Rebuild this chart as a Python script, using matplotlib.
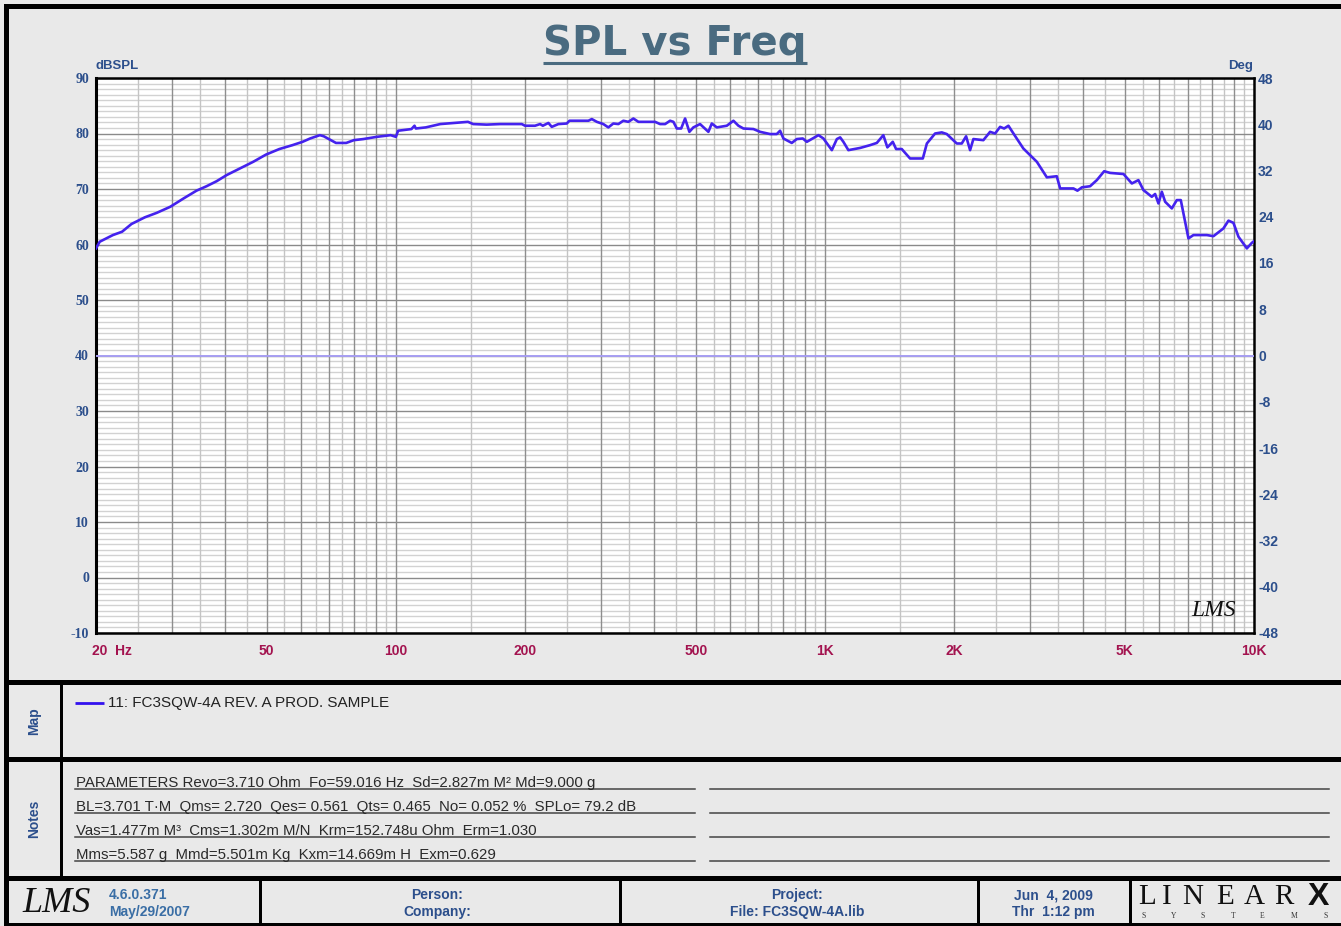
import matplotlib
matplotlib.use('Agg')
import matplotlib.pyplot as plt
from matplotlib.patches import Rectangle
import matplotlib.transforms as mtransforms

plt.rcParams['axes.unicode_minus'] = False

# ---------------- data ----------------
freq_hz = [20, 20.4, 21.9, 23.0, 24.2, 26.0, 27.7, 29.8, 32.0, 34.3, 36.2, 38.2, 40.3,
           43.3, 46.5, 49.8, 53.5, 57.4, 60.6, 63.1, 66.5, 67.9, 69.8, 72.5, 76.6, 79.8,
           84.0, 90.3, 97.2, 100, 101.2, 108.7, 110.5, 111.3, 117.4, 126.9, 136.7, 147.2,
           151.4, 162.7, 175, 196.5, 200, 211, 216.8, 220, 226.7, 230.8, 239.2, 250.2,
           253.8, 268.8, 281, 286.2, 294, 304.4, 312.7, 321.2, 330, 338.9, 348.2, 357.7,
           367.5, 401.8, 412.8, 424.1, 435.6, 443.4, 451.6, 462.2, 472.1, 483.1, 493.5,
           511.6, 535, 544.8, 559.7, 590.6, 611.9, 628.6, 645.7, 681.3, 706.2, 745, 772.2,
           786, 800.2, 837, 859.8, 888, 907.3, 965.8, 991.9, 1037.6, 1066, 1085, 1104,
           1134, 1208, 1274, 1321, 1368, 1398, 1439, 1465, 1510, 1579, 1691, 1728, 1806,
           1872, 1923, 2029, 2084, 2133, 2179, 2218, 2340, 2426, 2492, 2560, 2616, 2677,
           2750, 2900, 3008, 3118, 3290, 3470, 3533, 3795, 3877, 3971, 4150, 4302, 4475,
           4620, 4964, 5192, 5378, 5525, 5778, 5882, 5988, 6098, 6207, 6434, 6608, 6751,
           7034, 7226, 7764, 8044, 8488, 8719, 8955, 9200, 9624, 9886, 10000]
spl_db = [59.3, 60.5, 61.7, 62.3, 63.7, 64.9, 65.7, 66.8, 68.3, 69.7, 70.5, 71.4, 72.5,
          73.7, 74.9, 76.2, 77.2, 77.9, 78.5, 79.1, 79.7, 79.5, 79.0, 78.3, 78.3, 78.8,
          79.0, 79.4, 79.7, 79.4, 80.5, 80.8, 81.4, 80.9, 81.1, 81.7, 81.9, 82.1,
          81.7, 81.6, 81.7, 81.7, 81.4, 81.4, 81.7, 81.4, 81.9, 81.2, 81.7, 81.8,
          82.3, 82.3, 82.3, 82.6, 82.1, 81.7, 81.1, 81.8, 81.7, 82.3, 82.1, 82.7,
          82.1, 82.1, 81.7, 81.7, 82.3, 82.1, 80.9, 80.9, 82.7, 80.3, 81.1,
          81.7, 80.3, 81.8, 81.1, 81.4, 82.3, 81.4, 80.9, 80.8, 80.3, 79.9, 79.9,
          80.5, 79.1, 78.3, 79.0, 79.1, 78.5, 79.7, 79.1, 77.0, 79.0, 79.3, 78.5,
          77.0, 77.4, 77.9, 78.3, 79.7, 77.5, 78.5, 77.2, 77.2, 75.5, 75.5, 78.2, 80.0,
          80.2, 79.9, 78.2, 78.2, 79.5, 77.0, 79.0, 78.8, 80.3, 80.0, 81.2, 80.9, 81.4,
          80.0, 77.3, 76.1, 74.9, 72.1, 72.3, 70.1, 70.1, 69.7, 70.3, 70.5, 71.6, 73.2,
          72.9, 72.7, 71.0, 71.6, 69.8, 68.6, 69.1, 67.4, 69.5, 67.7, 66.5, 68.0, 68.0,
          61.1, 61.7, 61.7, 61.5, 62.9, 64.3, 63.9, 61.4, 59.3, 60.3, 60.6]
phase_freq_hz = [20, 10000]
phase_deg = [0, 0]

y_ticks_db = list(range(-10, 91, 10))
y_ticks_deg = list(range(-48, 49, 8))
x_ticks_hz = [20, 50, 100, 200, 500, 1000, 2000, 5000, 10000]
x_tick_labels = ['20  Hz', '50', '100', '200', '500', '1K', '2K', '5K', '10K']

title = 'SPL vs Freq'
legend_label = '11: FC3SQW-4A REV. A PROD. SAMPLE'
notes_lines = ['PARAMETERS Revo=3.710 Ohm  Fo=59.016 Hz  Sd=2.827m M\u00b2 Md=9.000 g',
               'BL=3.701 T\u00b7M  Qms= 2.720  Qes= 0.561  Qts= 0.465  No= 0.052 %  SPLo= 79.2 dB',
               'Vas=1.477m M\u00b3  Cms=1.302m M/N  Krm=152.748u Ohm  Erm=1.030',
               'Mms=5.587 g  Mmd=5.501m Kg  Kxm=14.669m H  Exm=0.629']
footer_cells = [('4.6.0.371', 'May/29/2007'), ('Person:', 'Company:'),
                ('Project:', 'File: FC3SQW-4A.lib'), ('Jun  4, 2009', 'Thr  1:12 pm')]

# ---------------- figure ----------------
W, H = 1341, 926
BG = '#e9e9e9'
fig = plt.figure(figsize=(W / 100, H / 100), dpi=100, facecolor=BG)

bg = fig.add_axes([0, 0, 1, 1])
bg.set_xlim(0, W)
bg.set_ylim(H, 0)
bg.axis('off')
bg.set_zorder(0)


def rect(x0, y0, x1, y1, c='black'):
    bg.add_patch(Rectangle((x0, y0), x1 - x0, y1 - y0, facecolor=c, edgecolor='none'))


# frame
rect(4, 4, W, 9)
rect(4, 4, 9, H)
rect(4, 680, W, 685)
rect(4, 757, W, 762)
rect(4, 876, W, 881)
rect(4, 923, W, H)
rect(60, 685, 63, 876)
for xd in (259, 619, 977, 1129):
    rect(xd, 881, xd + 3.5, H)

blue = '#2c4f8c'
crimson = '#a3134f'

# title
bg.text(675, 44, title, ha='center', va='center', fontsize=29, fontweight='bold',
        color='#4a6b80', family='DejaVu Sans')
bg.plot([543, 807], [63, 63], color='#4a6b80', lw=2.2, solid_capstyle='butt')

# axis unit labels
bg.text(96, 66, 'dBSPL', ha='left', va='center', fontsize=9.5, fontweight='bold',
        color=blue, family='Liberation Sans')
bg.text(1253, 66, 'Deg', ha='right', va='center', fontsize=9.5, fontweight='bold',
        color=blue, family='Liberation Sans')

# ---------------- main axes ----------------
L, R, T, B = 96, 1254, 78, 633
ax = fig.add_axes([L / W, (H - B) / H, (R - L) / W, (B - T) / H])
ax.set_zorder(2)
ax.set_facecolor('white')
ax.set_xscale('log')
ax.set_xlim(20, 10000)
ax.set_ylim(-10, 90)

# horizontal grid
for v in range(-10, 91):
    if v % 10 == 0:
        ax.axhline(v, color='#8a8a8a', lw=1.0, zorder=1.5)
    else:
        ax.axhline(v, color='#d2d2d2', lw=1.0, zorder=1)
# vertical grid (multiples of 0.5 decade-unit)
for dec in (10, 100, 1000):
    for k in range(2, 20):
        f = dec * k / 2
        if f < 20 or f > 10000:
            continue
        if k % 2 == 0:
            ax.axvline(f, color='#8e8e8e', lw=1.0, zorder=1.5)
        else:
            ax.axvline(f, color='#c4c4c4', lw=1.0, zorder=1)

ax.plot(freq_hz, spl_db, color='#4422ee', lw=1.9, zorder=4, solid_joinstyle='round')

ax.set_xticks(x_ticks_hz)
ax.set_xticklabels(x_tick_labels)
ax.xaxis.set_minor_locator(matplotlib.ticker.NullLocator())
ax.set_yticks(y_ticks_db)
ax.tick_params(axis='both', length=0)
ax.tick_params(axis='x', pad=8, labelsize=10, labelcolor=crimson)
ax.tick_params(axis='y', pad=5, labelsize=10, labelcolor=blue)
for lab in ax.get_xticklabels():
    lab.set_fontweight('bold')
    lab.set_family('Liberation Sans')
for lab in ax.get_yticklabels():
    lab.set_fontweight('bold')
    lab.set_family('Liberation Serif')
first = ax.get_xticklabels()[0]
first.set_ha('left')
first.set_transform(first.get_transform() + mtransforms.ScaledTranslation(-4 / 100, 0, fig.dpi_scale_trans))

for side in ('top', 'bottom', 'right'):
    ax.spines[side].set_linewidth(1.8)
ax.spines['left'].set_linewidth(2.2)

ax.text(0.965, 0.04, 'LMS', transform=ax.transAxes, ha='center', va='center',
        fontsize=17, fontstyle='italic', family='Liberation Serif', color='#111111', zorder=5)

ax2 = ax.twinx()
ax2.set_ylim(-48, 48)
ax2.set_yticks(y_ticks_deg)
ax2.plot(phase_freq_hz, phase_deg, color='#a79ef2', lw=1.4, zorder=3)
ax2.tick_params(axis='y', length=0, pad=3, labelsize=10, labelcolor=blue)
for lab in ax2.get_yticklabels():
    lab.set_fontweight('bold')
    lab.set_family('Liberation Sans')
for side in ('top', 'bottom', 'right', 'left'):
    ax2.spines[side].set_visible(False)

# ---------------- map panel ----------------
bg.text(34, 721, 'Map', rotation=90, ha='center', va='center', fontsize=10,
        fontweight='bold', color=blue, family='Liberation Sans')
bg.plot([75, 104], [703, 703], color='#3311ee', lw=2.0, solid_capstyle='butt')
bg.text(108, 703, legend_label, ha='left', va='center', fontsize=11,
        color='#222222', family='Liberation Sans')

# ---------------- notes panel ----------------
bg.text(34, 819, 'Notes', rotation=90, ha='center', va='center', fontsize=10,
        fontweight='bold', color=blue, family='Liberation Sans')
row_y = [789, 813, 837, 861]
for yy, line in zip(row_y, notes_lines):
    bg.text(76, yy - 2, line, ha='left', va='baseline', fontsize=10.8,
            color='#2a2a2a', family='Liberation Sans')
    bg.plot([75, 695], [yy, yy], color='#444444', lw=1.1)
    bg.plot([710, 1329], [yy, yy], color='#444444', lw=1.1)

# ---------------- footer ----------------
bg.text(57, 904, 'LMS', ha='center', va='center', fontsize=26, fontstyle='italic',
        family='Liberation Serif', color='#111111')
cell_x = [109, 437, 797, 1053]
cell_ha = ['left', 'center', 'center', 'center']
for i, (a, b) in enumerate(footer_cells):
    col = '#3a6ea5' if i == 0 else blue
    bg.text(cell_x[i], 895, a, ha=cell_ha[i], va='center', fontsize=10,
            fontweight='bold', color=col, family='Liberation Sans')
    bg.text(cell_x[i], 912, b, ha=cell_ha[i], va='center', fontsize=10,
            fontweight='bold', color=col, family='Liberation Sans')

logo_x = [1147, 1167, 1193, 1225, 1254, 1284]
for ch, xx in zip('LINEAR', logo_x):
    bg.text(xx, 897, ch, ha='center', va='center', fontsize=21,
            family='Liberation Serif', color='#111111')
bg.text(1318, 897, 'X', ha='center', va='center', fontsize=23, fontweight='bold',
        family='Liberation Sans', color='#111111')
sys_x = [1144, 1174, 1203, 1233, 1262, 1294, 1326]
for ch, xx in zip('SYSTEMS', sys_x):
    bg.text(xx, 916, ch, ha='center', va='center', fontsize=5.5,
            family='Liberation Serif', color='#333333')

fig.savefig('out.png', dpi=100, facecolor=BG)
